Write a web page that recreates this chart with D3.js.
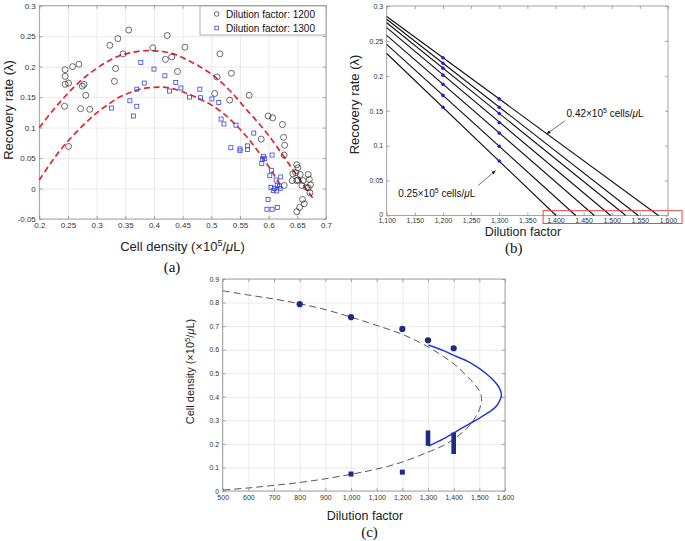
<!DOCTYPE html>
<html><head><meta charset="utf-8">
<script src="https://cdn.jsdelivr.net/npm/d3@7/dist/d3.min.js"></script>
<style>body{margin:0;background:#fff}</style>
</head><body>
<svg id="fig" width="685" height="541"></svg>
<script>
// ---------------- Panel (a) data ----------------
const aXTicks = [0.2,0.25,0.3,0.35,0.4,0.45,0.5,0.55,0.6,0.65,0.7];
const aXTickLabels = ["0.2","0.25","0.3","0.35","0.4","0.45","0.5","0.55","0.6","0.65","0.7"];
const aYTicks = [-0.05,0,0.05,0.1,0.15,0.2,0.25,0.3];
const aYTickLabels = ["-0.05","0","0.05","0.1","0.15","0.2","0.25","0.3"];
const aLegend = ["Dilution factor: 1200","Dilution factor: 1300"];
const dil1200 = [[0.245,0.195],[0.245,0.184],[0.245,0.171],[0.251,0.173],[0.244,0.135],[0.251,0.069],[0.258,0.200],[0.269,0.204],[0.272,0.131],[0.275,0.168],[0.278,0.171],[0.281,0.153],[0.288,0.130],[0.323,0.235],[0.337,0.246],[0.356,0.260],[0.346,0.221],[0.333,0.197],[0.331,0.176],[0.398,0.231],[0.423,0.251],[0.420,0.212],[0.431,0.216],[0.441,0.192],[0.454,0.232],[0.515,0.221],[0.510,0.183],[0.506,0.156],[0.535,0.189],[0.532,0.145],[0.566,0.153],[0.587,0.081],[0.599,0.119],[0.607,0.116],[0.624,0.105],[0.626,0.084],[0.628,0.071],[0.627,0.055],[0.627,0.005],[0.649,0.039],[0.651,0.034],[0.642,0.024],[0.647,0.026],[0.655,0.023],[0.641,0.013],[0.649,0.013],[0.651,0.014],[0.660,0.013],[0.658,0.005],[0.669,0.023],[0.671,0.015],[0.673,0.006],[0.669,0.001],[0.666,0.002],[0.672,-0.007],[0.659,-0.018],[0.662,-0.025],[0.654,-0.031],[0.649,-0.038]];
const dil1300 = [[0.326,0.132],[0.358,0.144],[0.364,0.119],[0.370,0.135],[0.370,0.163],[0.377,0.207],[0.383,0.173],[0.400,0.196],[0.419,0.185],[0.427,0.160],[0.438,0.174],[0.447,0.165],[0.462,0.150],[0.480,0.163],[0.481,0.149],[0.501,0.147],[0.513,0.141],[0.517,0.114],[0.522,0.106],[0.543,0.104],[0.534,0.067],[0.550,0.065],[0.550,0.062],[0.563,0.070],[0.563,0.064],[0.574,0.091],[0.591,0.053],[0.589,0.048],[0.593,0.049],[0.588,0.041],[0.606,0.055],[0.605,0.030],[0.602,0.021],[0.621,0.019],[0.613,0.014],[0.604,0.002],[0.608,-0.003],[0.610,0.000],[0.619,0.004],[0.615,0.005],[0.620,0.000],[0.614,-0.004],[0.599,-0.018],[0.597,-0.034],[0.606,-0.034],[0.615,-0.031]];
const fit1200 = [[0.200,0.100],[0.220,0.124],[0.240,0.146],[0.260,0.166],[0.280,0.183],[0.300,0.197],[0.320,0.209],[0.340,0.218],[0.360,0.223],[0.380,0.226],[0.400,0.226],[0.420,0.224],[0.440,0.219],[0.460,0.210],[0.480,0.200],[0.500,0.188],[0.520,0.172],[0.540,0.153],[0.560,0.131],[0.580,0.110],[0.600,0.087],[0.620,0.061],[0.640,0.034],[0.660,0.007],[0.680,-0.020]];
const fit1300 = [[0.200,0.014],[0.220,0.042],[0.240,0.067],[0.260,0.088],[0.280,0.107],[0.300,0.124],[0.320,0.138],[0.340,0.150],[0.360,0.158],[0.380,0.164],[0.400,0.166],[0.420,0.166],[0.440,0.162],[0.460,0.155],[0.480,0.147],[0.500,0.137],[0.520,0.124],[0.540,0.107],[0.560,0.087],[0.580,0.063],[0.600,0.036],[0.620,0.007]];

// ---------------- Panel (b) data ----------------
const bXTicks = [1100,1150,1200,1250,1300,1350,1400,1450,1500,1550,1600];
const bXTickLabels = ["1,100","1,150","1,200","1,250","1,300","1,350","1,400","1,450","1,500","1,550","1,600"];
const bYTicks = [0,0.05,0.1,0.15,0.2,0.25,0.3];
const bYTickLabels = ["0","0.05","0.1","0.15","0.2","0.25","0.3"];
const bLineStartY = [0.285,0.281,0.276,0.269,0.258,0.245,0.232];   // value at dilution 1100
const bLineEndX = [1583,1547,1525,1498,1469,1436,1401];             // dilution where rate hits 0
const bDots1200 = [0.226,0.218,0.211,0.201,0.188,0.172,0.155];
const bDots1300 = [0.167,0.155,0.146,0.133,0.118,0.099,0.078];
const bNotes = ["0.42","0.25"];

// ---------------- Panel (c) data ----------------
const cXTicks = [500,600,700,800,900,1000,1100,1200,1300,1400,1500,1600];
const cXTickLabels = ["500","600","700","800","900","1,000","1,100","1,200","1,300","1,400","1,500","1,600"];
const cYTicks = [0,0.1,0.2,0.3,0.4,0.5,0.6,0.7,0.8,0.9];
const cYTickLabels = ["0","0.1","0.2","0.3","0.4","0.5","0.6","0.7","0.8","0.9"];
const cDots = [[800,0.793],[1000,0.738],[1200,0.688],[1300,0.640],[1400,0.606]];
const cSquares = [[1000,0.072],[1200,0.080]];
const cBars = [[1300,0.192,0.257],[1400,0.157,0.248]];
const cDashed = [[500,0.850],[600,0.832],[700,0.815],[800,0.795],[900,0.770],[1000,0.738],[1100,0.703],[1200,0.665],[1300,0.612],[1400,0.540],[1440,0.500],[1480,0.455],[1500,0.425],[1509,0.392],[1500,0.345],[1480,0.305],[1450,0.265],[1410,0.228],[1360,0.193],[1300,0.165],[1200,0.123],[1100,0.093],[1000,0.071],[900,0.052],[800,0.036],[700,0.024],[600,0.013],[500,0.004]];
const cBlue = [[1302,0.620],[1360,0.596],[1411,0.571],[1455,0.550],[1489,0.528],[1525,0.500],[1554,0.471],[1572,0.448],[1583,0.425],[1586,0.405],[1580,0.385],[1568,0.362],[1545,0.340],[1510,0.316],[1476,0.294],[1440,0.272],[1411,0.253],[1360,0.221],[1302,0.191]];

// ---------------- helpers ----------------
const FONT = "'Liberation Sans', Arial, Helvetica, sans-serif";
const SERIF = "'Liberation Serif', 'Times New Roman', serif";
const svg = d3.select("#fig");
svg.append("rect").attr("width",685).attr("height",541).attr("fill","#fff");

function frame(g, x, y, xt, xl, yt, yl, grid, fs, xpad){
  const [x0,x1] = x.range(), [yb,yt0] = y.range();
  if (grid){
    const gx = g.append("g").attr("transform",`translate(0,${yb})`)
      .call(d3.axisBottom(x).tickValues(xt).tickSize(-(yb-yt0)).tickFormat(""));
    const gy = g.append("g").attr("transform",`translate(${x0},0)`)
      .call(d3.axisLeft(y).tickValues(yt).tickSize(-(x1-x0)).tickFormat(""));
    [gx,gy].forEach(s=>{s.select(".domain").remove(); s.selectAll("line").attr("stroke","#e6e6e6").attr("stroke-width",0.8);});
  }
  g.append("rect").attr("x",x0).attr("y",yt0).attr("width",x1-x0).attr("height",yb-yt0)
    .attr("fill","none").attr("stroke","#8f8f8f").attr("stroke-width",0.8);
  const axes = [
    g.append("g").attr("transform",`translate(0,${yb})`).call(d3.axisBottom(x).tickValues(xt).tickSize(-3).tickPadding(xpad).tickFormat((d,i)=>xl[i])),
    g.append("g").attr("transform",`translate(${x0},0)`).call(d3.axisLeft(y).tickValues(yt).tickSize(-3).tickPadding(3.5).tickFormat((d,i)=>yl[i])),
    g.append("g").attr("transform",`translate(0,${yt0})`).call(d3.axisTop(x).tickValues(xt).tickSize(-3).tickFormat("")),
    g.append("g").attr("transform",`translate(${x1},0)`).call(d3.axisRight(y).tickValues(yt).tickSize(-3).tickFormat(""))
  ];
  axes.forEach(a=>{
    a.select(".domain").remove();
    a.selectAll("line").attr("stroke","#8f8f8f").attr("stroke-width",0.8);
    a.selectAll("text").attr("fill","#333").style("font-family",FONT).style("font-size",fs+"px");
  });
}
function densityLabel(t, size, prefix){
  t.style("font-family",FONT).style("font-size",size+"px").attr("fill","#222");
  t.append("tspan").text(prefix+" (\u00D710");
  t.append("tspan").attr("dy",-size*0.38).style("font-size",(size*0.7)+"px").text("5");
  t.append("tspan").attr("dy",size*0.38).text("/");
  t.append("tspan").style("font-style","italic").text("\u03BC");
  t.append("tspan").text("L)");
}

// ---------------- Panel (a) ----------------
{
  const g = svg.append("g");
  const x = d3.scaleLinear().domain([0.2,0.7]).range([39.3,326]);
  const y = d3.scaleLinear().domain([-0.05,0.3]).range([219,5.7]);
  frame(g,x,y,aXTicks,aXTickLabels,aYTicks,aYTickLabels,true,8,3.5);
  const line = d3.line().x(d=>x(d[0])).y(d=>y(d[1])).curve(d3.curveCatmullRom);
  [fit1200,fit1300].forEach(f=>g.append("path").attr("d",line(f)).attr("fill","none")
    .attr("stroke","#e3262b").attr("stroke-width",1.7).attr("stroke-dasharray","6,3.5"));
  g.append("g").selectAll("circle").data(dil1200).join("circle")
    .attr("cx",d=>x(d[0])).attr("cy",d=>y(d[1])).attr("r",3)
    .attr("fill","none").attr("stroke","#2b2b2b").attr("stroke-width",0.7);
  g.append("g").selectAll("rect").data(dil1300).join("rect")
    .attr("x",d=>x(d[0])-2).attr("y",d=>y(d[1])-2).attr("width",4).attr("height",4)
    .attr("fill","none").attr("stroke","#3646e0").attr("stroke-width",0.8);
  // legend
  const lg = g.append("g");
  lg.append("rect").attr("x",200).attr("y",6).attr("width",126).attr("height",29)
    .attr("fill","#fff").attr("stroke","#9a9a9a").attr("stroke-width",0.8);
  lg.append("circle").attr("cx",216.7).attr("cy",14).attr("r",2.3).attr("fill","none").attr("stroke","#2b2b2b").attr("stroke-width",0.7);
  lg.append("rect").attr("x",214.9).attr("y",26.2).attr("width",3.6).attr("height",3.6).attr("fill","none").attr("stroke","#3646e0").attr("stroke-width",0.8);
  aLegend.forEach((t,i)=>lg.append("text").attr("x",226).attr("y",17.5+i*14).text(t)
    .style("font-family",FONT).style("font-size","10px").attr("fill","#111"));
  densityLabel(g.append("text").attr("x",182.5).attr("y",251).attr("text-anchor","middle"),13,"Cell density");
  g.append("text").attr("transform","translate(13,110) rotate(-90)").attr("text-anchor","middle")
    .style("font-family",FONT).style("font-size","13px").attr("fill","#222").text("Recovery rate (\u03BB)");
  g.append("text").attr("x",172).attr("y",272).attr("text-anchor","middle")
    .style("font-family",SERIF).style("font-size","15px").attr("fill","#111").text("(a)");
}

// ---------------- Panel (b) ----------------
{
  const g = svg.append("g");
  const x = d3.scaleLinear().domain([1100,1600]).range([386.7,668]);
  const y = d3.scaleLinear().domain([0,0.3]).range([215.5,6]);
  frame(g,x,y,bXTicks,bXTickLabels,bYTicks,bYTickLabels,false,7,2.2);
  // nudge the "0" y-label up a touch so it clears the "1,100" label (as in the reference)
  g.selectAll("text").filter(function(){return this.textContent==="0";}).attr("dy","0.1em");
  bLineStartY.forEach((v,i)=>{
    g.append("line").attr("x1",x(1100)).attr("y1",y(v)).attr("x2",x(bLineEndX[i])).attr("y2",y(0))
      .attr("stroke","#111").attr("stroke-width",1.1);
  });
  g.append("g").selectAll("circle").data(bDots1200.map(v=>[1200,v]).concat(bDots1300.map(v=>[1300,v]))).join("circle")
    .attr("cx",d=>x(d[0])).attr("cy",d=>y(d[1])).attr("r",1.8).attr("fill","#1f1fe8");
  // red highlight rectangle around the x-intercepts
  g.append("rect").attr("x",x(1378)).attr("y",y(0.0069)).attr("width",x(1625)-x(1378)).attr("height",y(-0.0114)-y(0.0069))
    .attr("fill","none").attr("stroke","#e2484d").attr("stroke-width",1);
  // arrows
  const defs = svg.append("defs");
  defs.append("marker").attr("id","ah").attr("viewBox","0 0 10 10").attr("refX",10).attr("refY",5)
    .attr("markerWidth",6).attr("markerHeight",6).attr("orient","auto")
    .append("path").attr("d","M0,1 L10,5 L0,9 Z").attr("fill","#111");
  const arrows = [[[1416.7,0.1355],[1384,0.1166]],[[1262.7,0.0431],[1293.6,0.0644]]];
  arrows.forEach(a=>g.append("line").attr("x1",x(a[0][0])).attr("y1",y(a[0][1])).attr("x2",x(a[1][0])).attr("y2",y(a[1][1]))
    .attr("stroke","#333").attr("stroke-width",0.7).attr("marker-end","url(#ah)"));
  const notePos = [[1419.7,0.1405],[1120.6,0.0258]];
  bNotes.forEach((n,i)=>{
    const t = g.append("text").attr("x",x(notePos[i][0])).attr("y",y(notePos[i][1]))
      .style("font-family",FONT).style("font-size","10px").attr("fill","#111");
    t.append("tspan").text(n+"\u00D710");
    t.append("tspan").attr("dy",-4).style("font-size","7px").text("5");
    t.append("tspan").attr("dy",4).text(" cells/");
    t.append("tspan").style("font-style","italic").text("\u03BC");
    t.append("tspan").text("L");
  });
  g.append("text").attr("x",523).attr("y",235.5).attr("text-anchor","middle")
    .style("font-family",FONT).style("font-size","12.5px").attr("fill","#222").text("Dilution factor");
  g.append("text").attr("transform","translate(359,104.5) rotate(-90)").attr("text-anchor","middle")
    .style("font-family",FONT).style("font-size","13px").attr("fill","#222").text("Recovery rate (\u03BB)");
  g.append("text").attr("x",513.7).attr("y",253).attr("text-anchor","middle")
    .style("font-family",SERIF).style("font-size","15px").attr("fill","#111").text("(b)");
}

// ---------------- Panel (c) ----------------
{
  const g = svg.append("g");
  const x = d3.scaleLinear().domain([500,1600]).range([222.7,505]);
  const y = d3.scaleLinear().domain([0,0.9]).range([491,279]);
  frame(g,x,y,cXTicks,cXTickLabels,cYTicks,cYTickLabels,true,7,4);
  const line = d3.line().x(d=>x(d[0])).y(d=>y(d[1])).curve(d3.curveCatmullRom);
  g.append("path").attr("d",line(cDashed)).attr("fill","none").attr("stroke","#444")
    .attr("stroke-width",0.9).attr("stroke-dasharray","7,4");
  g.append("path").attr("d",line(cBlue)).attr("fill","none").attr("stroke","#2438d6").attr("stroke-width",1.5);
  const navy = "#1b2c86";
  g.append("g").selectAll("rect").data(cBars).join("rect")
    .attr("x",d=>x(d[0])-2.3).attr("y",d=>y(d[2])).attr("width",4.6).attr("height",d=>y(d[1])-y(d[2])).attr("fill",navy);
  g.append("g").selectAll("circle").data(cDots).join("circle")
    .attr("cx",d=>x(d[0])).attr("cy",d=>y(d[1])).attr("r",3.1).attr("fill",navy);
  g.append("g").selectAll("rect").data(cSquares).join("rect")
    .attr("x",d=>x(d[0])-2.5).attr("y",d=>y(d[1])-2.5).attr("width",5).attr("height",5).attr("fill",navy);
  g.append("text").attr("x",365).attr("y",520).attr("text-anchor","middle")
    .style("font-family",FONT).style("font-size","12.5px").attr("fill","#222").text("Dilution factor");
  densityLabel(g.append("text").attr("transform","translate(194,371.5) rotate(-90)").attr("text-anchor","middle"),11,"Cell density");
  g.append("text").attr("x",369.5).attr("y",537).attr("text-anchor","middle")
    .style("font-family",SERIF).style("font-size","15px").attr("fill","#111").text("(c)");
}
</script>
</body></html>
